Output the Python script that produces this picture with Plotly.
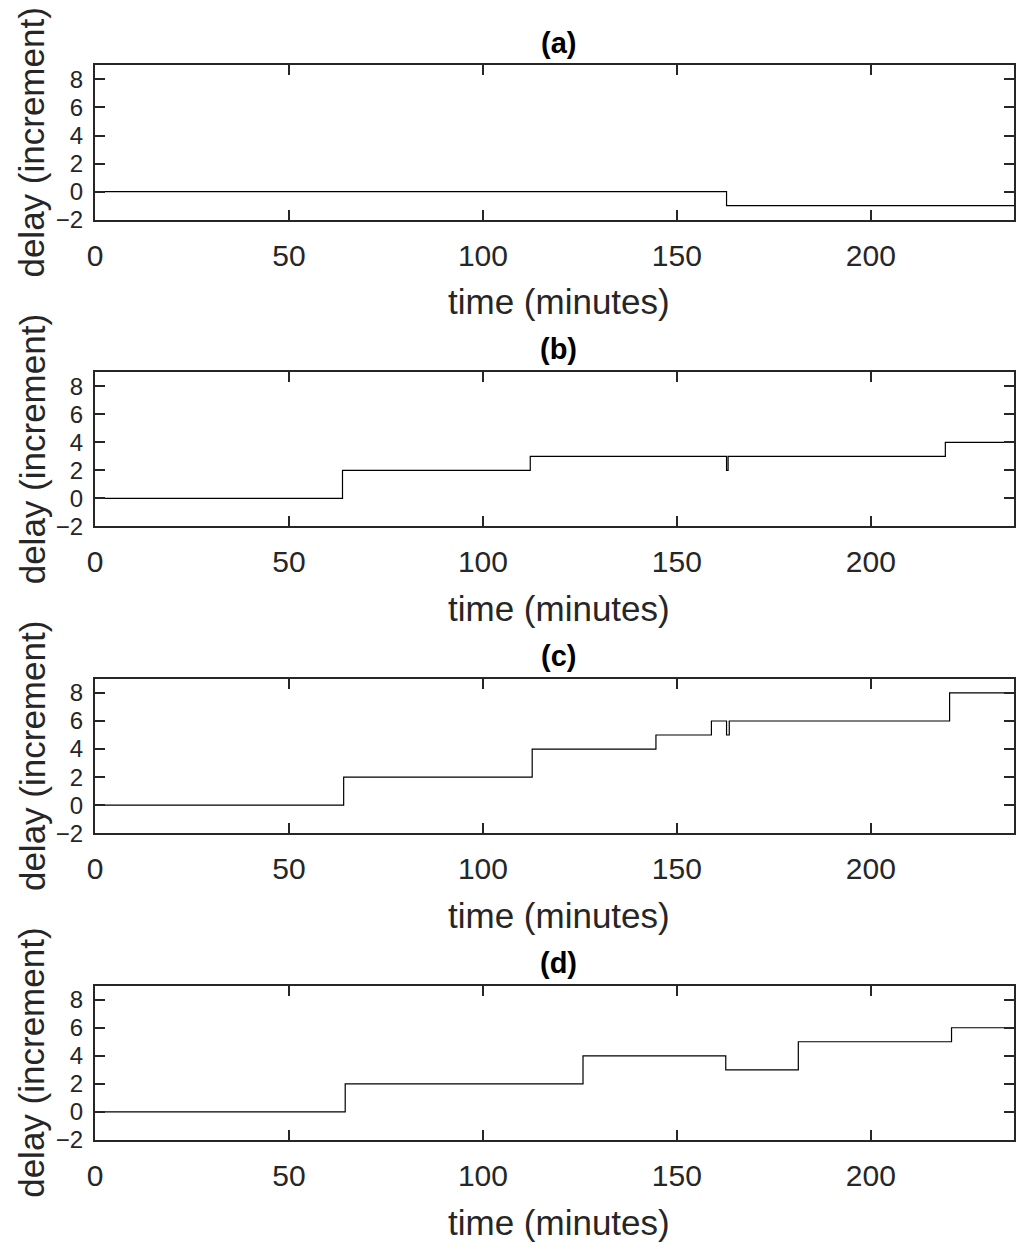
import plotly.graph_objects as go

# step times (minutes) and delay values for each panel
panel_labels = ["(a)", "(b)", "(c)", "(d)"]

t_a = [0, 162.8, 239]
d_a = [0, -1, -1]

t_b = [0, 63.8, 112.2, 162.8, 163.2, 219.2, 239]
d_b = [0, 2, 3, 2, 3, 4, 4]

t_c = [0, 64.1, 112.7, 144.6, 158.9, 162.8, 163.5, 220.3, 239]
d_c = [0, 2, 4, 5, 6, 5, 6, 8, 8]

t_d = [0, 64.5, 125.8, 162.6, 181.3, 220.8, 239]
d_d = [0, 2, 4, 3, 5, 6, 6]

x_ticks = [0, 50, 100, 150, 200]
y_ticks = [-2, 0, 2, 4, 6, 8]

series = [(t_a, d_a), (t_b, d_b), (t_c, d_c), (t_d, d_d)]

# the page body has an 8px margin, so the figure is a bit smaller than the window
W, H = 1008, 1238
FONT = "Arial, Liberation Sans, sans-serif"
INK = "#262626"
tops = [58, 368, 678, 988]
panel_h = 156

fig = go.Figure()
for i, (t, d) in enumerate(series):
    n = "" if i == 0 else str(i + 1)
    fig.add_trace(go.Scatter(
        x=t, y=d, mode="lines", line=dict(color="black", width=1.2, shape="hv"),
        xaxis="x" + n, yaxis="y" + n, showlegend=False,
    ))
    top, bot = tops[i], tops[i] + panel_h
    fig.layout["xaxis" + n] = dict(
        domain=[0, 1], anchor="y" + n, range=[0, 236.9],
        tickvals=x_ticks, ticks="inside", ticklen=10, tickwidth=1.5, tickcolor=INK,
        showline=True, linecolor=INK, linewidth=2, mirror="ticks",
        showgrid=False, zeroline=False, ticklabelstandoff=8,
        tickfont=dict(family=FONT, size=30, color=INK),
    )
    fig.layout["yaxis" + n] = dict(
        domain=[1 - bot / H, 1 - top / H], anchor="x" + n, range=[-2, 9],
        tickvals=y_ticks, ticks="inside", ticklen=10, tickwidth=1.5, tickcolor=INK,
        showline=True, linecolor=INK, linewidth=2, mirror="ticks",
        showgrid=False, zeroline=False, ticklabelstandoff=5,
        tickfont=dict(family=FONT, size=24, color=INK),
    )
    # panel title
    fig.add_annotation(
        text="<b>" + panel_labels[i] + "</b>", x=0.5, xref="paper", xshift=4,
        y=1 - (top - 23) / H, yref="paper", yanchor="middle", showarrow=False,
        font=dict(family=FONT, size=29, color="black"),
    )
    # x axis title
    fig.add_annotation(
        text="time (minutes)", x=0.5, xref="paper", xshift=4,
        y=1 - (bot + 83) / H, yref="paper", yanchor="middle", showarrow=False,
        font=dict(family=FONT, size=35, color=INK),
    )
    # y axis title
    fig.add_annotation(
        text="delay (increment)", x=0, xref="paper", xshift=-63, xanchor="center",
        y=1 - (top + panel_h / 2) / H, yref="paper", yanchor="middle",
        textangle=-90, showarrow=False,
        font=dict(family=FONT, size=35, color=INK),
    )

fig.update_layout(
    width=W, height=H,
    margin=dict(l=87, r=2, t=0, b=0),
    paper_bgcolor="white", plot_bgcolor="white",
)

fig.write_html("out.html")
